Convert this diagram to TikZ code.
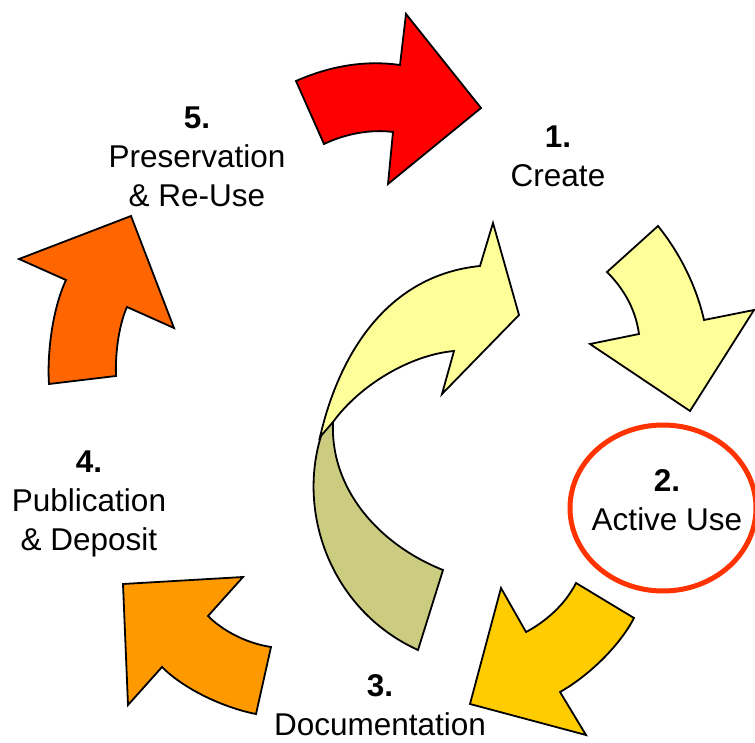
\documentclass[tikz,border=0pt]{standalone}
\usepackage{fontspec}
\setmainfont{Liberation Sans}
\definecolor{cRed}{HTML}{FF0000}
\definecolor{cPale}{HTML}{FFFF99}
\definecolor{cGold}{HTML}{FFCC00}
\definecolor{cOrange}{HTML}{FF9900}
\definecolor{cDark}{HTML}{FF6600}
\definecolor{cOlive}{HTML}{CCCC80}
\definecolor{cRing}{HTML}{FF3300}
\tikzset{
  arrowshape/.style={draw=black, line width=1.8pt, line join=miter},
  lbl/.style={anchor=north, inner sep=0pt, align=center, font=\fontsize{31.5}{39}\selectfont},
  ring/.style={draw=cRing, line width=5pt}
}
\begin{document}
\begin{tikzpicture}[x=1pt,y=-1pt]
\useasboundingbox (0,0) rectangle (755,743);
% red arrow (5 to 1)
\filldraw[arrowshape, fill=cRed] (296,81) .. controls (330,66) and (365,60) .. (400,65)
  -- (406,14) -- (481,108) -- (388,184) -- (393,132)
  .. controls (370,129) and (345,134) .. (324,144) -- cycle;
% pale yellow arrow (1 to 2)
\filldraw[arrowshape, fill=cPale] (607,272) -- (658,226)
  .. controls (675,247) and (695,280) .. (704,320)
  -- (754,310) -- (690,411) -- (590,344) -- (639,334)
  .. controls (635,305) and (620,285) .. (607,272) -- cycle;
% gold arrow (2 to 3)
\filldraw[arrowshape, fill=cGold] (576,583) -- (634,618)
  .. controls (620,645) and (590,675) .. (560,692)
  -- (586,735) -- (470,704) -- (501,588) -- (526,632)
  .. controls (545,622) and (565,605) .. (576,583) -- cycle;
% orange arrow (3 to 4)
\filldraw[arrowshape, fill=cOrange] (123,584) -- (243,577) -- (208,616)
  .. controls (222,630) and (245,643) .. (271,647)
  -- (256,714)
  .. controls (225,708) and (185,690) .. (162,667)
  -- (128,705) -- cycle;
% dark orange arrow (4 to 5)
\filldraw[arrowshape, fill=cDark] (131,216) -- (174,328) -- (127,307)
  .. controls (120,322) and (115,350) .. (116,376)
  -- (49,384)
  .. controls (47,355) and (52,310) .. (66,280)
  -- (19,259) -- cycle;
% centre ribbon: olive lower part
\filldraw[arrowshape, fill=cOlive] (323,430) .. controls (295,510) and (330,610) .. (418,650)
  -- (443,570)
  .. controls (380,545) and (330,490) .. (333,422) -- cycle;
% centre ribbon: pale upper part with head
\filldraw[arrowshape, fill=cPale] (320,437) .. controls (340,350) and (390,275) .. (480,266)
  -- (493,223) -- (519,315) -- (442,394) -- (454,351)
  .. controls (410,355) and (360,385) .. (333,422) -- cycle;
% ring round step 2
\draw[ring] (663,508) ellipse [x radius=93, y radius=83];
% labels
\node[lbl] (s5) at (197,106.5) {\textbf{5.}\\Preservation\\\& Re-Use};
\node[lbl] (s1) at (558,125.5) {\textbf{1.}\\Create};
\node[lbl] (s2) at (667,469.5) {\textbf{2.}\\Active Use};
\node[lbl] (s4) at (89,450.5) {\textbf{4.}\\Publication\\\& Deposit};
\node[lbl] (s3) at (380,674) {\textbf{3.}\\Documentation};
\end{tikzpicture}
\end{document}
